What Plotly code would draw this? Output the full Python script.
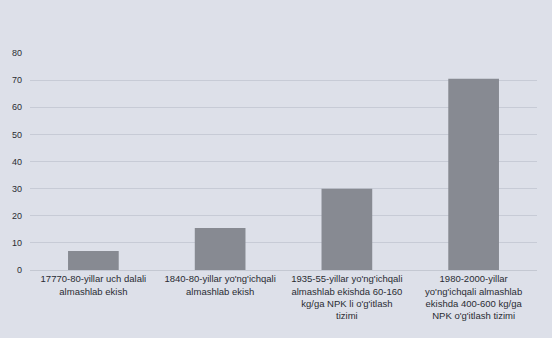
import plotly.graph_objects as go

categories = [
    "17770-80-yillar uch dalali<br>almashlab ekish",
    "1840-80-yillar yo'ng'ichqali<br>almashlab ekish",
    "1935-55-yillar yo'ng'ichqali<br>almashlab ekishda 60-160<br>kg/ga NPK li o'g'itlash<br>tizimi",
    "1980-2000-yillar<br>yo'ng'ichqali almashlab<br>ekishda 400-600 kg/ga<br>NPK o'g'itlash tizimi",
]
values = [7, 15.5, 30, 70.5]
y_ticks = [0, 10, 20, 30, 40, 50, 60, 70, 80]

fig = go.Figure(go.Bar(
    x=categories, y=values,
    marker=dict(color="#878a92", line=dict(width=0)),
    width=0.4,
))

fig.update_layout(
    width=552, height=338,
    margin=dict(l=28, r=15, t=53, b=68),
    paper_bgcolor="#dde0e9",
    plot_bgcolor="#dde0e9",
    showlegend=False,
    font=dict(family="Liberation Sans, Arial", color="#2a2c33"),
    bargap=0.6,
)
fig.update_xaxes(
    tickfont=dict(size=9.5),
    showgrid=False, showline=True, linecolor="#c4c8d2", linewidth=1,
    ticks="", tickangle=0,
)
fig.update_yaxes(
    range=[0, 80], tickvals=y_ticks,
    tickfont=dict(size=9),
    ticklabelstandoff=7,
    showgrid=True, gridcolor="#c7cbd6", gridwidth=1,
    zeroline=False, showline=False, ticks="",
)
fig.write_html("out.html")
